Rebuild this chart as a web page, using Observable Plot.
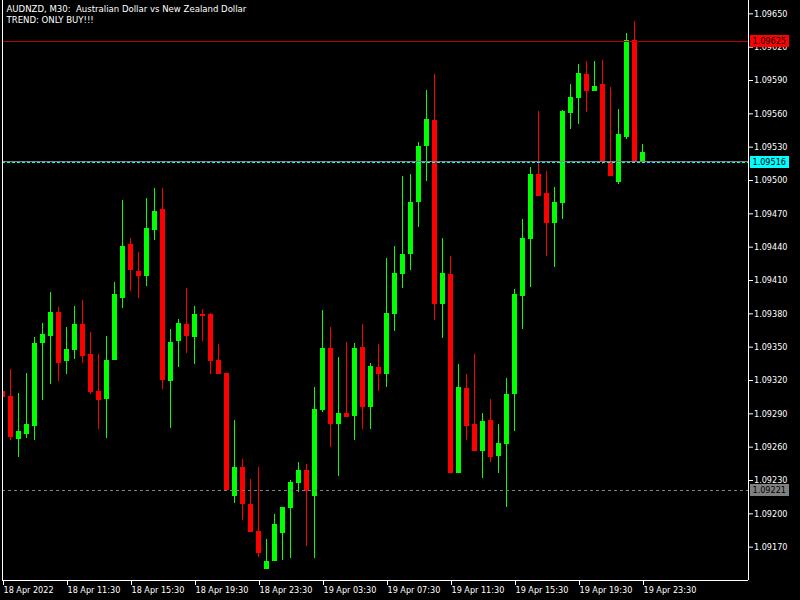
<!DOCTYPE html>
<html>
<head>
<meta charset="utf-8">
<script src="https://cdn.jsdelivr.net/npm/d3@7"></script>
<script src="https://cdn.jsdelivr.net/npm/@observablehq/plot@0.6"></script>
<style>
  html, body { margin: 0; padding: 0; background: #000; }
  #chart { position: relative; width: 800px; height: 600px; }
</style>
</head>
<body>
<div id="chart"></div>
<script>
const title = "AUDNZD, M30:\u00a0\u00a0Australian Dollar vs New Zealand Dollar";
const subtitle = "TREND: ONLY BUY!!!";

// x tick labels (every 8 bars = 4 hours)
const tickIndex = [0, 8, 16, 24, 32, 40, 48, 56, 64, 72, 80];
const tickLabels = ["18 Apr 2022", "18 Apr 11:30", "18 Apr 15:30", "18 Apr 19:30", "18 Apr 23:30",
  "19 Apr 03:30", "19 Apr 07:30", "19 Apr 11:30", "19 Apr 15:30", "19 Apr 19:30", "19 Apr 23:30"];

// y ticks
const yTicks = [1.09170, 1.09200, 1.09230, 1.09260, 1.09290, 1.09320, 1.09350, 1.09380, 1.09410,
  1.09440, 1.09470, 1.09500, 1.09530, 1.09560, 1.09590, 1.09620, 1.09650];

// OHLC, M30 bars from 18 Apr 07:30 to 19 Apr 23:30
const open = [1.09310,1.09306,1.09267,1.09271,1.09279,1.09353,1.09360,1.09381,1.09337,1.09347,
  1.09370,1.09343,1.09310,1.09303,1.09338,1.09394,1.09442,1.09418,1.09414,1.09455,
  1.09474,1.09319,1.09355,1.09370,1.09359,1.09379,1.09379,1.09338,1.09326,1.09216,
  1.09242,1.09208,1.09184,1.09150,1.09157,1.09182,1.09205,1.09227,1.09239,1.09216,
  1.09293,1.09349,1.09280,1.09290,1.09288,1.09350,1.09296,1.09332,1.09325,1.09379,
  1.09415,1.09433,1.09480,1.09531,1.09554,1.09388,1.09415,1.09236,1.09313,1.09280,
  1.09256,1.09284,1.09252,1.09262,1.09307,1.09396,1.09447,1.09505,1.09488,1.09461,
  1.09479,1.09560,1.09574,1.09595,1.09580,1.09586,1.09517,1.09498,1.09539,1.09626,
  1.09516];
const high = [1.09312,1.09330,1.09308,1.09326,1.09359,1.09371,1.09399,1.09386,1.09368,1.09387,
  1.09392,1.09363,1.09343,1.09360,1.09408,1.09482,1.09448,1.09435,1.09484,1.09493,
  1.09493,1.09366,1.09375,1.09403,1.09387,1.09384,1.09380,1.09352,1.09326,1.09284,
  1.09249,1.09231,1.09242,1.09177,1.09199,1.09206,1.09230,1.09246,1.09244,1.09314,
  1.09383,1.09368,1.09341,1.09354,1.09353,1.09370,1.09335,1.09352,1.09430,1.09441,
  1.09504,1.09505,1.09534,1.09581,1.09595,1.09448,1.09432,1.09334,1.09325,1.09343,
  1.09290,1.09303,1.09280,1.09322,1.09402,1.09465,1.09512,1.09562,1.09508,1.09494,
  1.09563,1.09586,1.09604,1.09607,1.09607,1.09608,1.09584,1.09564,1.09632,1.09643,
  1.09532];
const low = [1.09303,1.09266,1.09251,1.09268,1.09266,1.09302,1.09316,1.09319,1.09325,1.09339,
  1.09335,1.09307,1.09276,1.09268,1.09338,1.09385,1.09400,1.09394,1.09405,1.09446,
  1.09312,1.09277,1.09332,1.09344,1.09334,1.09355,1.09325,1.09325,1.09221,1.09209,
  1.09194,1.09183,1.09161,1.09150,1.09157,1.09158,1.09160,1.09219,1.09171,1.09160,
  1.09291,1.09260,1.09234,1.09287,1.09266,1.09276,1.09276,1.09310,1.09314,1.09364,
  1.09403,1.09419,1.09458,1.09499,1.09374,1.09358,1.09236,1.09236,1.09266,1.09256,
  1.09232,1.09246,1.09236,1.09206,1.09274,1.09366,1.09404,1.09486,1.09432,1.09422,
  1.09465,1.09546,1.09550,1.09561,1.09580,1.09514,1.09504,1.09496,1.09537,1.09516,
  1.09516];
const close = [1.09305,1.09269,1.09274,1.09280,1.09353,1.09361,1.09381,1.09335,1.09348,1.09370,
  1.09342,1.09309,1.09302,1.09338,1.09397,1.09441,1.09419,1.09414,1.09457,1.09472,
  1.09320,1.09354,1.09371,1.09360,1.09379,1.09378,1.09337,1.09325,1.09221,1.09242,
  1.09208,1.09183,1.09164,1.09157,1.09190,1.09206,1.09228,1.09239,1.09220,1.09294,
  1.09349,1.09280,1.09290,1.09287,1.09349,1.09296,1.09333,1.09325,1.09380,1.09416,
  1.09433,1.09480,1.09531,1.09555,1.09388,1.09416,1.09236,1.09314,1.09279,1.09256,
  1.09283,1.09251,1.09263,1.09307,1.09397,1.09448,1.09505,1.09486,1.09461,1.09480,
  1.09562,1.09575,1.09596,1.09580,1.09585,1.09516,1.09504,1.09541,1.09626,1.09516,
  1.09525];

// price levels
const levelPrices = [1.09625, 1.09516, 1.09221];
const levelBg = ["#ff0000", "#00ffff", "#808080"];

const bars = open.map((o, i) => ({i, open: o, high: high[i], low: low[i], close: close[i],
  up: close[i] >= o}));
const levels = levelPrices.map((p, i) => ({price: p, bg: levelBg[i]}));

const xDomain = [0, 93.25];
const yDomain = [1.09140, 1.09662];
const candleColor = d => d.up ? "#00ff00" : "#ff0000";
const font = "'DejaVu Sans Condensed', 'Liberation Sans', sans-serif";

const chart = Plot.plot({
  width: 800,
  height: 600,
  marginLeft: 2,
  marginRight: 52,
  marginTop: 0,
  marginBottom: 20,
  style: {background: "#000", color: "#fff", fontFamily: font, fontSize: "9px"},
  x: {type: "linear", domain: xDomain, axis: null},
  y: {domain: yDomain, axis: null},
  marks: [
    Plot.ruleX(bars, {x: "i", y1: "low", y2: "high", stroke: candleColor, strokeWidth: 1,
      shapeRendering: "crispEdges", clip: true}),
    Plot.ruleX(bars, {x: "i", y1: "open", y2: "close", stroke: candleColor, strokeWidth: 5,
      shapeRendering: "crispEdges", clip: true}),
    // level lines
    Plot.ruleY([levelPrices[0]], {stroke: "#c00000", strokeWidth: 1, shapeRendering: "crispEdges"}),
    Plot.ruleY([levelPrices[1]], {stroke: "#808080", strokeWidth: 1, dy: -1, shapeRendering: "crispEdges"}),
    Plot.ruleY([levelPrices[1]], {stroke: "#00ffff", strokeWidth: 1, strokeDasharray: "3,2", shapeRendering: "crispEdges"}),
    Plot.ruleY([levelPrices[2]], {stroke: "#808080", strokeWidth: 1, strokeDasharray: "3,3", shapeRendering: "crispEdges"}),
    // frame (left, right, bottom)
    Plot.ruleX([xDomain[0], xDomain[1]], {stroke: "#fff", shapeRendering: "crispEdges"}),
    Plot.ruleY([yDomain[0]], {stroke: "#fff", shapeRendering: "crispEdges"}),
    // axes
    Plot.axisY({anchor: "right", ticks: yTicks, tickFormat: d => d.toFixed(5), tickSize: 4,
      tickPadding: 1.5, stroke: "#fff", fill: "#fff", label: null}),
    Plot.axisX({anchor: "bottom", ticks: tickIndex, tickFormat: (d, i) => tickLabels[i], tickSize: 5,
      tickPadding: 1, textAnchor: "start", dx: 1, stroke: "#fff", fill: "#fff", label: null}),
    // level price labels
    Plot.text(levels, {y: "price", text: d => d.price.toFixed(5), render: (I, scales, values, dims) => {
      const g = d3.create("svg:g");
      const x0 = dims.width - dims.marginRight + 2;
      for (const i of I) {
        const y = Math.round(values.y[i]);
        g.append("rect").attr("x", x0).attr("y", y - 6).attr("width", 39).attr("height", 12)
          .attr("fill", levels[i].bg);
        g.append("text").attr("x", x0 + 2.5).attr("y", y).attr("dy", "0.35em")
          .attr("text-anchor", "start")
          .attr("fill", "#000").attr("font-family", font).attr("font-size", 9)
          .text(levels[i].price.toFixed(5));
      }
      return g.node();
    }}),
    // title
    Plot.text([title + "\n" + subtitle], {frameAnchor: "top-left", dx: 4, dy: 4, textAnchor: "start",
      lineAnchor: "top", fill: "#fff", fontSize: 9.5, lineHeight: 1.15})
  ]
});
document.getElementById("chart").appendChild(chart);
</script>
</body>
</html>
